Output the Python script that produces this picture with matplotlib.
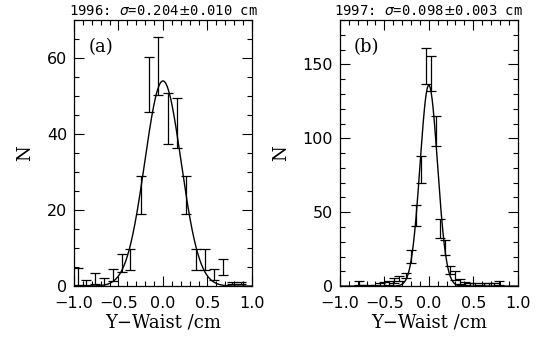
import numpy as np
import matplotlib
matplotlib.use("Agg")
import matplotlib.pyplot as plt
from matplotlib.ticker import MultipleLocator

# 1996 panel (a): bin centres, counts, errors
x_a = [-0.96, -0.86, -0.76, -0.66, -0.56, -0.46, -0.37, -0.25, -0.16, -0.05,
       0.057, 0.158, 0.263, 0.375, 0.468, 0.569, 0.673, 0.78, 0.88]
n_a = [2.5, 1.0, 2.0, 1.0, 3.0, 6.0, 7.0, 24.0, 53.0, 58.0,
       44.0, 43.0, 24.0, 7.0, 7.0, 3.0, 5.0, 0.9, 0.9]
e_a = [2.2, 0.6, 1.4, 1.0, 1.6, 2.4, 2.7, 4.9, 7.3, 7.6,
       6.7, 6.6, 4.9, 2.7, 2.7, 1.5, 2.2, 0.3, 0.3]

# 1997 panel (b)
x_b = [-0.79, -0.73, -0.67, -0.61, -0.55, -0.50, -0.45, -0.39, -0.33, -0.26,
       -0.20, -0.14, -0.084, -0.028, 0.025, 0.078, 0.131, 0.187, 0.24, 0.295,
       0.35, 0.405, 0.46, 0.515, 0.57, 0.625, 0.68, 0.735, 0.79]
n_b = [2.0, 0.5, 0.5, 0.5, 1.0, 1.5, 2.0, 3.5, 5.0, 7.4,
       20.0, 48.0, 79.0, 149.0, 144.0, 105.0, 39.0, 26.0, 11.0, 7.0,
       3.0, 1.5, 1.0, 1.0, 0.5, 1.0, 1.0, 1.0, 2.0]
e_b = [1.5, 0.5, 0.5, 0.5, 1.0, 1.2, 1.4, 1.7, 1.5, 1.8,
       4.3, 7.0, 9.0, 12.2, 12.0, 10.3, 6.2, 5.2, 2.5, 3.0,
       1.5, 1.0, 1.0, 0.8, 0.5, 1.0, 1.0, 1.0, 1.4]

# gaussian fit parameters (amplitude, mean, sigma)
fit_a = (54.0, 0.0, 0.204)
fit_b = (136.0, 0.0, 0.098)

titles = ["1996: $\\sigma$=0.204$\\pm$0.010 cm", "1997: $\\sigma$=0.098$\\pm$0.003 cm"]
tags = ["(a)", "(b)"]
ylims = [70, 180]
ymajor = [20, 50]
yminor = [5, 10]
xticks = [-1.0, -0.5, 0.0, 0.5, 1.0]
xticklabels = ["\u22121.0", "\u22120.5", "0.0", "0.5", "1.0"]

fig = plt.figure(figsize=(5.36, 3.41), dpi=100)
axes = [fig.add_axes([0.138, 0.161, 0.332, 0.780]),
        fig.add_axes([0.634, 0.161, 0.332, 0.780])]

data = [(x_a, n_a, e_a, fit_a), (x_b, n_b, e_b, fit_b)]
xx = np.linspace(-1.0, 1.0, 400)

for i, ax in enumerate(axes):
    x, n, e, (amp, mu, sig) = data[i]
    ax.errorbar(x, n, yerr=e, fmt="none", ecolor="black", elinewidth=0.9,
                capsize=3.5, capthick=0.9)
    ax.plot(xx, amp * np.exp(-(xx - mu) ** 2 / (2 * sig ** 2)), color="black", lw=1.0)

    ax.set_xlim(-1.0, 1.0)
    ax.set_ylim(0, ylims[i])
    ax.xaxis.set_minor_locator(MultipleLocator(0.1))
    ax.yaxis.set_major_locator(MultipleLocator(ymajor[i]))
    ax.yaxis.set_minor_locator(MultipleLocator(yminor[i]))
    ax.tick_params(which="both", direction="in", top=True, right=True, width=0.8)
    ax.tick_params(which="major", length=7, labelsize=11.5)
    ax.tick_params(axis="x", which="major", pad=7)
    ax.tick_params(axis="y", which="major", pad=5)
    ax.tick_params(which="minor", length=3.5)
    ax.set_xticks(xticks)
    ax.set_xticklabels(xticklabels)
    for s in ax.spines.values():
        s.set_linewidth(0.9)

    ax.set_xlabel("Y\u2212Waist /cm", family="DejaVu Serif", fontsize=13, labelpad=2)
    ax.set_ylabel("N", family="DejaVu Serif", fontsize=13, labelpad=9)
    ax.set_title(titles[i], fontsize=10, family="DejaVu Sans Mono", pad=4)
    ax.text(0.08, 0.9, tags[i], transform=ax.transAxes, family="DejaVu Serif",
            fontsize=13, va="center", ha="left")

fig.savefig("out.png", dpi=100)
